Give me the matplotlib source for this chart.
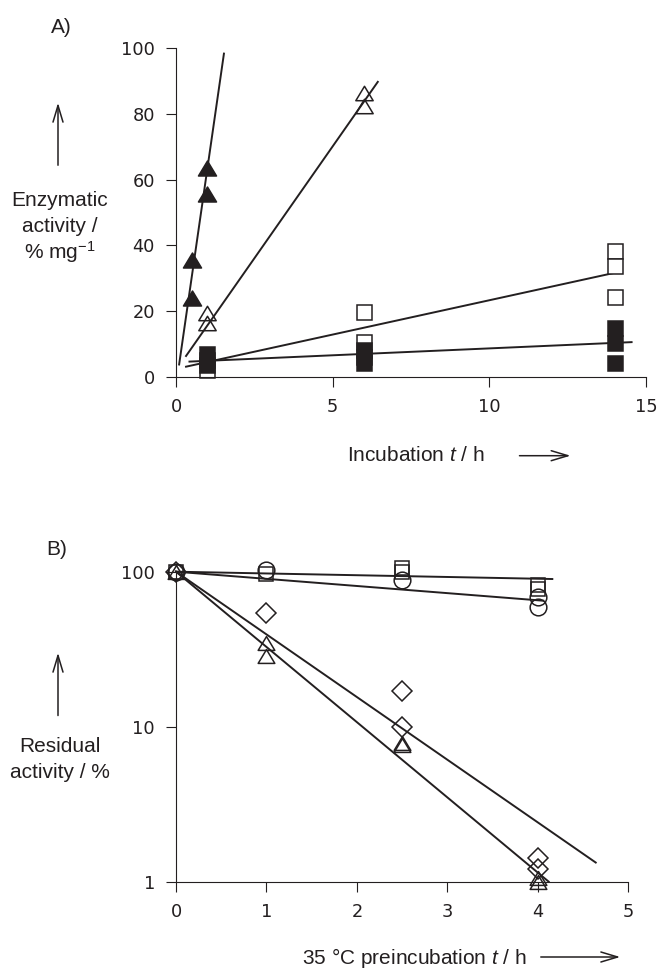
import numpy as np
import matplotlib
matplotlib.use("Agg")
import matplotlib.pyplot as plt
from matplotlib.patches import FancyArrowPatch
from matplotlib.path import Path

# ---- Panel A data: enzymatic activity vs incubation time ----
a_tri_filled_x = [0.5, 0.5, 1, 1]
a_tri_filled_y = [24, 35.5, 55.5, 63.5]
a_tri_open_x = [1, 1, 6, 6]
a_tri_open_y = [19.5, 16.4, 86.3, 82.4]
a_sq_open_x = [1, 6, 6, 14, 14, 14]
a_sq_open_y = [2, 19.8, 10.5, 38.4, 33.7, 24.4]
a_sq_filled_x = [1, 1, 1, 6, 6, 6, 14, 14, 14]
a_sq_filled_y = [7, 5, 3.5, 8, 6, 4.3, 14.9, 10.2, 4.1]

# linear fits (slope, intercept, x range) - order: filled tri, open tri, open sq, filled sq
a_fit_slope = [66.2, 13.64, 2.09, 0.42]
a_fit_icpt = [-2.9, 1.94, 2.38, 4.42]
a_fit_x0 = [0.1, 0.32, 0.32, 0.43]
a_fit_x1 = [1.53, 6.44, 14.17, 14.54]

# ---- Panel B data: residual activity after 35 C preincubation ----
b_sq_x = [0, 1, 2.5, 2.5, 4, 4]
b_sq_y = [100, 96.6, 105, 100, 82, 77]
b_ci_x = [0, 1, 2.5, 4, 4]
b_ci_y = [100, 102.5, 89, 69, 59]
b_di_x = [0, 1, 2.5, 2.5, 4, 4]
b_di_y = [100, 54, 17, 9.9, 1.42, 1.2]
b_tr_x = [0, 1, 1, 2.5, 2.5, 4, 4]
b_tr_y = [100, 34.5, 28.6, 7.9, 7.6, 1.05, 1.0]

# first-order decay fits: y = 100 * 10^(-k t) - order: sq, circle, diamond, triangle
b_fit_k = [0.01135, 0.0461, 0.4044, 0.4854]
b_fit_x1 = [4.16, 4.06, 4.64, 4.12]

INK = "#231f20"
W, H = 659, 969

plt.rcParams["font.family"] = ["Liberation Sans", "DejaVu Sans"]
plt.rcParams["mathtext.fontset"] = "custom"
plt.rcParams["mathtext.rm"] = "Liberation Sans"
plt.rcParams["mathtext.it"] = "Liberation Sans:italic"

# slightly flattened triangle, closed so open markers get all three sides
tri = Path([(0, 0.83), (-1, -0.83), (1, -0.83), (0, 0.83)], closed=True)

fig = plt.figure(figsize=(W / 100, H / 100), dpi=100)


def px_axes(left, top, right, bottom):
    return fig.add_axes([left / W, 1 - bottom / H, (right - left) / W, (bottom - top) / H])


def style_axes(ax):
    for s in ["top", "right"]:
        ax.spines[s].set_visible(False)
    for s in ["left", "bottom"]:
        ax.spines[s].set_linewidth(0.8)
        ax.spines[s].set_color(INK)
    ax.tick_params(direction="out", length=7.2, width=0.8, color=INK, pad=8,
                   labelsize=12.8, labelcolor=INK)
    for lab in ax.get_xticklabels() + ax.get_yticklabels():
        lab.set_fontfamily("DejaVu Sans")


def fig_arrow(x0, y0, x1, y1):
    arr = FancyArrowPatch((x0 / W, 1 - y0 / H), (x1 / W, 1 - y1 / H),
                          transform=fig.transFigure,
                          arrowstyle="->,head_length=1.0,head_width=0.3",
                          mutation_scale=12, lw=1.1, color=INK)
    fig.patches.append(arr)


def fig_text(x, y, s, ha="center"):
    fig.text(x / W, 1 - y / H, s, ha=ha, va="baseline", fontsize=15, color=INK)


# ---------------- Panel A ----------------
axA = px_axes(176, 48.3, 646, 376.7)
axA.set_xlim(0, 15)
axA.set_ylim(0, 100)
axA.set_xticks([0, 5, 10, 15])
axA.set_yticks([0, 20, 40, 60, 80, 100])

for m, b, x0, x1 in zip(a_fit_slope, a_fit_icpt, a_fit_x0, a_fit_x1):
    xs = np.array([x0, x1])
    axA.plot(xs, m * xs + b, color=INK, lw=1.4, clip_on=False)

axA.plot(a_sq_open_x, a_sq_open_y, "s", ms=10.8, mfc="white", mec=INK, mew=1.1, clip_on=False)
axA.plot(a_sq_filled_x, a_sq_filled_y, "s", ms=10.8, mfc=INK, mec=INK, mew=1.1, clip_on=False)
axA.plot(a_tri_open_x, a_tri_open_y, ls="none", marker=tri, ms=12.5, mfc="none", mec=INK, mew=1.1, clip_on=False)
axA.plot(a_tri_filled_x, a_tri_filled_y, ls="none", marker=tri, ms=13, mfc=INK, mec=INK, mew=1.1, clip_on=False)
style_axes(axA)

fig_text(61, 33, "A)")
fig_arrow(58, 168, 58, 100)
fig_text(60, 206, "Enzymatic")
fig_text(60, 232, "activity /")
fig_text(60, 259, "% mg$^{\u22121}$")
fig_text(346.7, 461, "Incubation $t$ / h", ha="left")
fig_arrow(516.7, 455.7, 573.3, 455.7)

# ---------------- Panel B ----------------
axB = px_axes(176, 571.7, 628.3, 881.7)
axB.set_yscale("log")
axB.set_xlim(0, 5)
axB.set_ylim(1, 100)
axB.set_xticks([0, 1, 2, 3, 4, 5])
axB.set_yticks([1, 10, 100])
axB.set_yticklabels(["1", "10", "100"])
axB.minorticks_off()

for k, x1 in zip(b_fit_k, b_fit_x1):
    xs = np.array([0, x1])
    axB.plot(xs, 100 * 10 ** (-k * xs), color=INK, lw=1.4, clip_on=False)

axB.plot(b_sq_x, b_sq_y, "s", ms=9.6, mfc="none", mec=INK, mew=1.1, clip_on=False)
axB.plot(b_ci_x, b_ci_y, "o", ms=12, mfc="none", mec=INK, mew=1.1, clip_on=False)
axB.plot(b_di_x, b_di_y, "D", ms=10, mfc="none", mec=INK, mew=1.1, clip_on=False)
axB.plot(b_tr_x, b_tr_y, ls="none", marker=tri, ms=12, mfc="none", mec=INK, mew=1.1, clip_on=False)
style_axes(axB)

fig_text(57, 555, "B)")
fig_arrow(58, 718.3, 58, 650)
fig_text(60, 751.7, "Residual")
fig_text(60, 777.7, "activity / %")
fig_text(302, 964, "35 \u00b0C preincubation $t$ / h", ha="left")
fig_arrow(538, 957, 623, 957)

fig.savefig("out.png", dpi=100, facecolor="white")
